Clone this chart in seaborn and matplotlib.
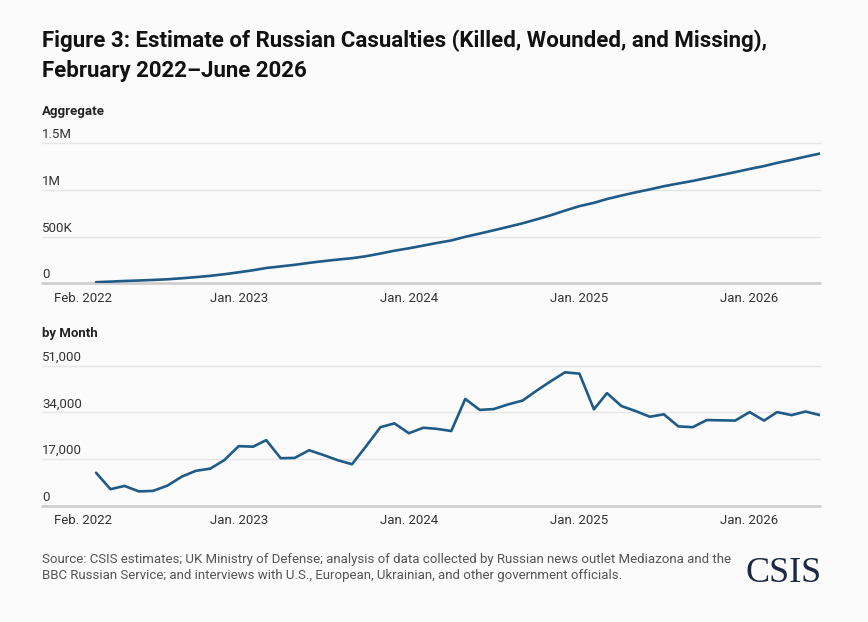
import matplotlib
matplotlib.use("Agg")
import matplotlib.pyplot as plt
import matplotlib.transforms as mtransforms
import pandas as pd
import seaborn as sns

# --- DATA ---
# months covered, Feb. 2022 .. May 2026; each value is drawn at the end of its month
months = pd.period_range("2022-02", "2026-05", freq="M")

monthly = [12000, 6000, 7200, 5200, 5400, 7300, 10600, 12700, 13500, 16600,
           21700, 21500, 23900, 17300, 17400, 20200, 18500, 16600, 15100, 21600,
           28600, 30000, 26400, 28400, 28000, 27200, 38900, 34900, 35200, 36900,
           38300, 41900, 45400, 48600, 48100, 35100, 41000, 36300, 34500, 32400,
           33300, 28900, 28600, 31200, 31100, 31000, 34100, 31000, 34100, 33000,
           34300, 33000]

aggregate = [12000, 18000, 25000, 30000, 36000, 43000, 54000, 66000, 80000, 97000,
             118000, 140000, 164000, 181000, 198000, 219000, 237000, 254000, 269000, 290000,
             319000, 349000, 375000, 404000, 432000, 459000, 498000, 533000, 568000, 605000,
             643000, 685000, 730000, 779000, 827000, 862000, 903000, 940000, 974000, 1006000,
             1040000, 1069000, 1097000, 1128000, 1160000, 1191000, 1225000, 1256000, 1290000, 1323000,
             1357000, 1390000]

agg_ticks = [0, 500000, 1000000, 1500000]
agg_tick_labels = ["0", "500K", "1M", "1.5M"]
month_ticks = [0, 17000, 34000, 51000]
month_tick_labels = ["0", "17,000", "34,000", "51,000"]
x_tick_dates = ["2022-02-01", "2023-01-01", "2024-01-01", "2025-01-01", "2026-01-01"]
x_tick_labels = ["Feb. 2022", "Jan. 2023", "Jan. 2024", "Jan. 2025", "Jan. 2026"]

TITLE = ("Figure 3: Estimate of Russian Casualties (Killed, Wounded, and Missing),\n"
         "February 2022\u2013June 2026")
SOURCE = ("Source: CSIS estimates; UK Ministry of Defense; analysis of data collected by Russian news outlet Mediazona and the\n"
          "BBC Russian Service; and interviews with U.S., European, Ukrainian, and other government officials.")

# --- STYLE ---
BG = "#fbfbfb"
LINE = "#1f5b86"
TXT = "#333333"
NARROW = ["Liberation Sans Narrow", "Roboto", "DejaVu Sans"]

sns.set_theme(style="white")
plt.rcParams["font.family"] = NARROW

df = pd.DataFrame({
    "date": (months + 1).to_timestamp(),
    "monthly": monthly,
    "aggregate": aggregate,
})

W, H = 868, 622
fig = plt.figure(figsize=(W / 100, H / 100), dpi=100, facecolor=BG)
ax_top = fig.add_axes([42 / W, 1 - 283.3 / H, 778 / W, 140 / H])
ax_bot = fig.add_axes([42 / W, 1 - 505.7 / H, 778 / W, 140 / H])

x_left = pd.Timestamp("2021-11-05")
x_right = df["date"].iloc[-1]


def style_panel(ax, col, yticks, ylabels):
    sns.lineplot(data=df, x="date", y=col, ax=ax, color=LINE, linewidth=1.9)
    ax.set_facecolor(BG)
    ax.set_xlim(x_left, x_right)
    ax.set_ylim(0, yticks[-1])
    for s in ax.spines.values():
        s.set_visible(False)
    ax.set_xlabel("")
    ax.set_ylabel("")
    ax.set_yticks([])
    for v in yticks[1:]:
        ax.axhline(v, color="#e6e6e6", linewidth=1.0, zorder=0, clip_on=False)
    ax.axhline(0, color="#cfcfcf", linewidth=2.0, zorder=1, clip_on=False)
    trans = mtransforms.blended_transform_factory(ax.transAxes, ax.transData)
    trans = trans + mtransforms.ScaledTranslation(0, 3.5 / 72, fig.dpi_scale_trans)
    for v, lab in zip(yticks, ylabels):
        ax.text(0, v, lab, transform=trans, ha="left", va="baseline",
                fontsize=9.5, color=TXT)
    ax.set_xticks(pd.to_datetime(x_tick_dates))
    ax.set_xticklabels(x_tick_labels, fontsize=9.5, color=TXT)
    ax.tick_params(axis="x", length=0, pad=6)


style_panel(ax_top, "aggregate", agg_ticks, agg_tick_labels)
style_panel(ax_bot, "monthly", month_ticks, month_tick_labels)

fig.text(42 / W, 1 - 29 / H, TITLE, ha="left", va="top", fontsize=16,
         fontweight="bold", color="#111111", linespacing=1.5)
fig.text(42 / W, 1 - 111 / H, "Aggregate", ha="left", va="center",
         fontsize=9.5, fontweight="bold", color="#222222")
fig.text(42 / W, 1 - 333 / H, "by Month", ha="left", va="center",
         fontsize=9.5, fontweight="bold", color="#222222")
fig.text(42 / W, 1 - 553 / H, SOURCE, ha="left", va="top", fontsize=9.5,
         color="#555555", linespacing=1.3)
fig.text(822 / W, 1 - 573 / H, "CSIS", ha="right", va="center", fontsize=26,
         family=["Liberation Serif", "DejaVu Serif"], color="#1b2a41")

fig.savefig("out.png", dpi=100, facecolor=BG)
